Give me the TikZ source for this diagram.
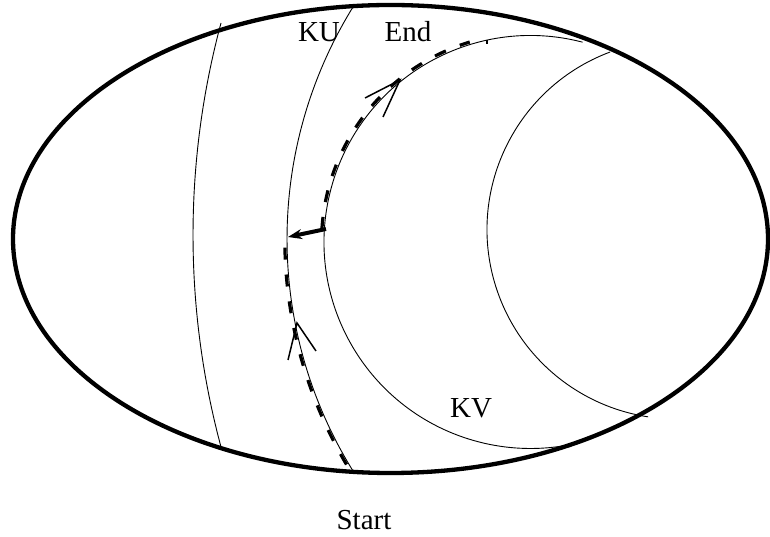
\documentclass[tikz,border=0pt]{standalone}
\usepackage{fontspec}
\setmainfont{Liberation Serif}
\usetikzlibrary{arrows.meta}
\begin{document}
\begin{tikzpicture}[x=1pt,y=1pt,
  thinline/.style={line width=0.9pt},
  boundary/.style={line width=4.3pt},
  pathdash/.style={line width=3.2pt, dash pattern=on 12pt off 15pt},
  openhead/.style={line width=1.5pt},
  lbl/.style={font=\fontsize{29}{30}\selectfont, inner sep=0pt, anchor=base}]
\useasboundingbox (0,0) rectangle (770,537);
% outer ellipse
\draw[boundary] (390.5,298) ellipse [x radius=377.5pt, y radius=234pt];
% leftmost curve
\draw[thinline] ([shift={(164.95:816.5pt)}]1009.5,302) arc[start angle=164.95, end angle=195.05, radius=816.5pt];
% KU curve
\draw[thinline] ([shift={(148.24:440.8pt)}]727.8,298) arc[start angle=148.24, end angle=211.69, radius=440.8pt];
% KV circle
\draw[thinline] ([shift={(75.4:206.5pt)}]530.5,295) arc[start angle=75.4, end angle=283.9, radius=206.5pt];
% right circle
\draw[thinline] ([shift={(110.5:189.5pt)}]676.5,307.5) arc[start angle=110.5, end angle=261.4, radius=189.5pt];
% dashed path along KU
\draw[pathdash] ([shift={(210.6:443pt)}]727.8,298) arc[start angle=210.6, end angle=179.2, radius=443pt];
% dashed path along KV
\draw[pathdash] ([shift={(176.4:209pt)}]530.5,295) arc[start angle=176.4, end angle=106.9, radius=209pt];
% small tick
\draw[line width=1.2pt] (487,493) -- (487,497);
% thick arrow
\coordinate (kvp) at (326,308);
\coordinate (kup) at (288,300);
\draw[line width=4pt, -{Stealth[length=14pt,width=10pt]}] (kvp) -- (kup);
% open arrowheads
\coordinate (t1) at (297,214);
\draw[openhead] (288,177) -- (t1) -- (316,186);
\coordinate (t2) at (400,457);
\draw[openhead] (365,439) -- (t2) -- (383,420);
% labels
\node[lbl] (ku) at (319,495) {KU};
\node[lbl] (end) at (408,495) {End};
\node[lbl] (kv) at (471,119) {KV};
\node[lbl] (start) at (364,7) {Start};
\end{tikzpicture}
\end{document}
